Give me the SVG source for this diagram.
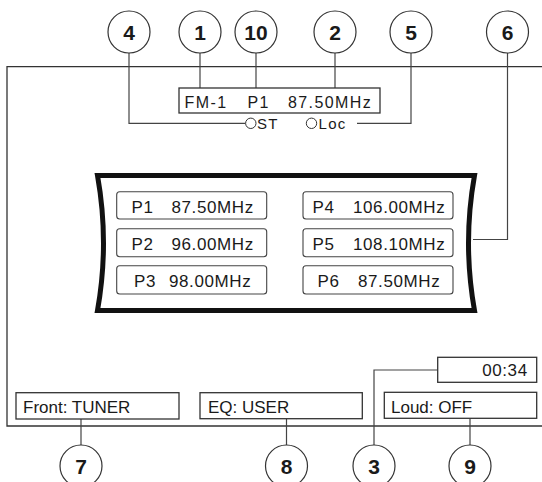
<svg xmlns="http://www.w3.org/2000/svg" width="542" height="482" viewBox="0 0 542 482">
<style>
.frame{fill:none;stroke:#333;stroke-width:1.3}
.conn{fill:none;stroke:#444;stroke-width:1.2}
.callout{fill:#fff;stroke:#333;stroke-width:1.2}
.num{font-family:"Liberation Sans",Arial,sans-serif;font-weight:bold;font-size:21px;fill:#1a1a1a;text-anchor:middle}
.box{fill:#fff;stroke:#333;stroke-width:1.3}
.pbox{fill:#fff;stroke:#444;stroke-width:1.1}
.t{font-family:"Liberation Sans",Arial,sans-serif;fill:#1a1a1a}
.p{font-size:17px;letter-spacing:0.6px}
.b{font-size:17px}
.fm{font-size:16px;letter-spacing:1.4px}
.stl{font-family:"Liberation Sans",Arial,sans-serif;fill:#1a1a1a;font-size:15px;letter-spacing:1.3px;font-weight:normal}
</style>
<rect width="542" height="482" fill="#fff"/>
<g id="frame">
<path class="frame" d="M542,66.7 H7 V426 H542"/>
</g>
<g id="connectors">
<path class="conn" d="M129,53 V123.3 H245.5"/>
<path class="conn" d="M200,53 V88"/>
<path class="conn" d="M256,53 V88"/>
<path class="conn" d="M335,53 V88"/>
<path class="conn" d="M411,53 V123.3 H357"/>
<path class="conn" d="M507.5,53 V239.5 H473"/>
<path class="conn" d="M437.7,370 H374 V445"/>
<path class="conn" d="M81,419 V445"/>
<path class="conn" d="M286.5,419 V445"/>
<path class="conn" d="M470,418.5 V445"/>
</g>
<g id="c4"><circle class="callout" cx="129" cy="32" r="21"/><text class="num" x="129" y="39.5">4</text></g>
<g id="c1"><circle class="callout" cx="200" cy="32" r="21"/><text class="num" x="200" y="39.5">1</text></g>
<g id="c10"><circle class="callout" cx="256" cy="32" r="21"/><text class="num" x="256" y="39.5">10</text></g>
<g id="c2"><circle class="callout" cx="335" cy="32" r="21"/><text class="num" x="335" y="39.5">2</text></g>
<g id="c5"><circle class="callout" cx="411" cy="32" r="21"/><text class="num" x="411" y="39.5">5</text></g>
<g id="c6"><circle class="callout" cx="507.5" cy="32" r="21"/><text class="num" x="507.5" y="39.5">6</text></g>
<g id="c7"><circle class="callout" cx="81" cy="466" r="21"/><text class="num" x="81" y="473.5">7</text></g>
<g id="c8"><circle class="callout" cx="286.5" cy="466" r="21"/><text class="num" x="286.5" y="473.5">8</text></g>
<g id="c3"><circle class="callout" cx="374" cy="466" r="21"/><text class="num" x="374" y="473.5">3</text></g>
<g id="c9"><circle class="callout" cx="470" cy="466" r="21"/><text class="num" x="470" y="473.5">9</text></g>
<g id="fmbox">
<rect class="box" x="179" y="88" width="201" height="25"/>
<text class="t fm" x="184.5" y="108.3">FM-1</text>
<text class="t fm" x="247.5" y="108.3">P1</text>
<text class="t fm" x="288" y="108.3">87.50MHz</text>
</g>
<g id="stloc">
<circle cx="250.8" cy="123.3" r="5.2" fill="#fff" stroke="#333" stroke-width="1"/>
<text class="stl" x="257" y="128.7">ST</text>
<circle cx="311.5" cy="123.3" r="5.2" fill="#fff" stroke="#333" stroke-width="1"/>
<text class="stl" x="318.5" y="128.7">Loc</text>
</g>
<g id="lcd">
<path d="M97.5,175.5 H474.5 Q462.5,243 474.5,310.5 H97.5 Q109.5,243 97.5,175.5 Z" fill="#fff" stroke="#111" stroke-width="5" stroke-linejoin="miter"/>
<g id="preset1"><rect class="pbox" x="116.7" y="191.7" width="150" height="27.3" rx="3"/><text class="t p" x="131.5" y="212.7">P1</text><text class="t p" x="171.5" y="212.7">87.50MHz</text></g>
<g id="preset2"><rect class="pbox" x="116.7" y="228.7" width="150" height="28" rx="3"/><text class="t p" x="131.5" y="249.6">P2</text><text class="t p" x="171.5" y="249.6">96.00MHz</text></g>
<g id="preset3"><rect class="pbox" x="116.7" y="265.7" width="150" height="28.3" rx="3"/><text class="t p" x="134" y="286.8">P3</text><text class="t p" x="169" y="286.8">98.00MHz</text></g>
<g id="preset4"><rect class="pbox" x="303" y="191.7" width="150" height="27.3" rx="3"/><text class="t p" x="312.5" y="212.7">P4</text><text class="t p" x="353" y="212.7">106.00MHz</text></g>
<g id="preset5"><rect class="pbox" x="303" y="228.7" width="150" height="28" rx="3"/><text class="t p" x="312.5" y="249.6">P5</text><text class="t p" x="353" y="249.6">108.10MHz</text></g>
<g id="preset6"><rect class="pbox" x="303" y="265.7" width="150" height="28.3" rx="3"/><text class="t p" x="317.5" y="286.8">P6</text><text class="t p" x="358" y="286.8">87.50MHz</text></g>
</g>
<g id="clock"><rect class="box" x="437.7" y="357.3" width="99" height="25"/><text class="t b" x="527.7" y="375.5" text-anchor="end" letter-spacing="0.6">00:34</text></g>
<g id="front"><rect class="box" x="16" y="392.7" width="163" height="26.3"/><text class="t b" x="23" y="412.7">Front: TUNER</text></g>
<g id="eq"><rect class="box" x="200" y="392.7" width="162.3" height="26"/><text class="t b" x="208" y="412.7">EQ: USER</text></g>
<g id="loud"><rect class="box" x="384.3" y="392.3" width="152.4" height="26"/><text class="t b" x="391" y="412.5">Loud: OFF</text></g>
</svg>
